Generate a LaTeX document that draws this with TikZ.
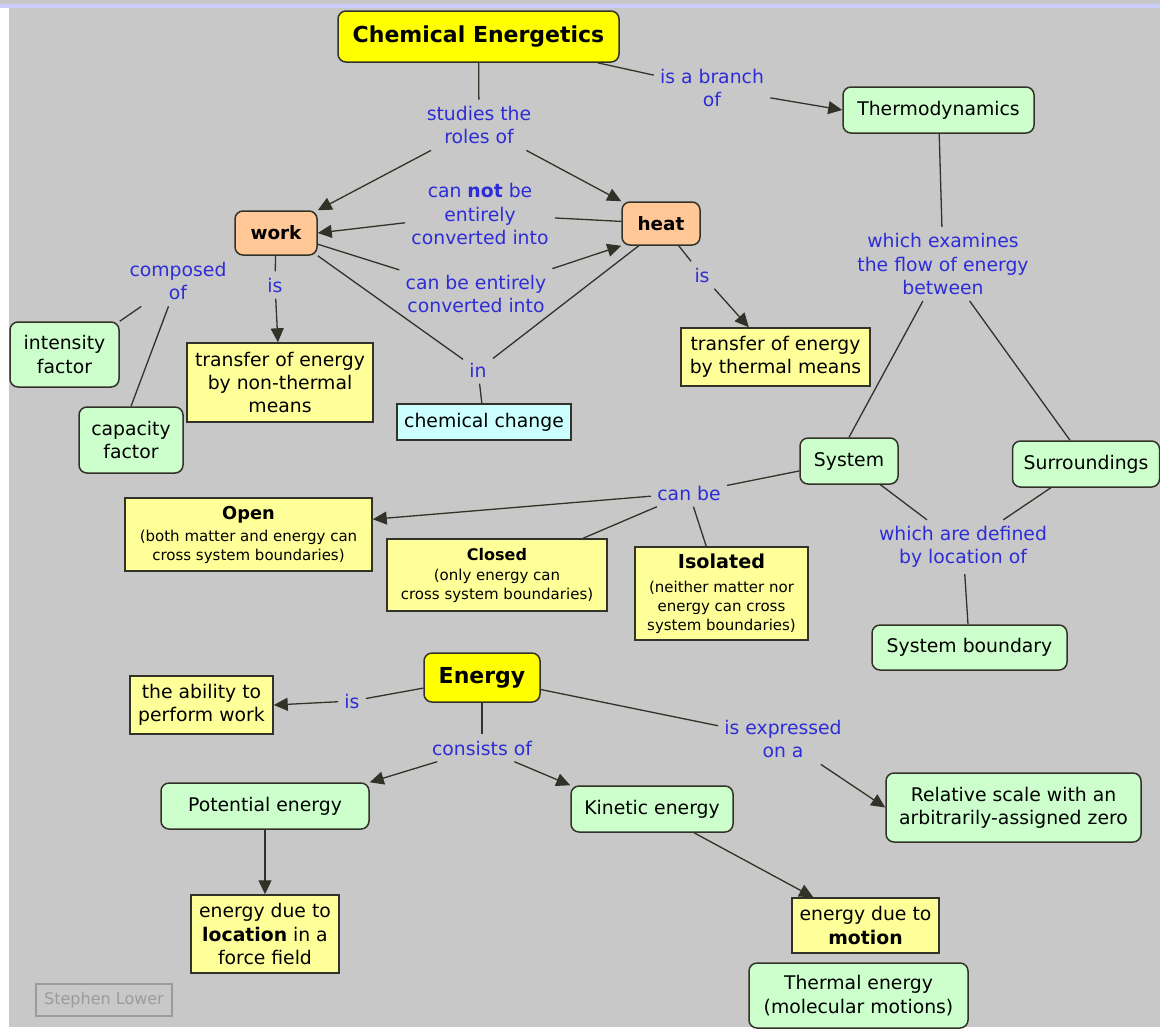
\documentclass[tikz,border=0pt]{standalone}
\usepackage{fontspec}
\setmainfont{DejaVu Sans}
\usetikzlibrary{arrows.meta}
\definecolor{bggray}{RGB}{200,200,200}
\definecolor{bandblue}{RGB}{204,204,255}
\definecolor{conyellow}{RGB}{255,255,0}
\definecolor{noteyellow}{RGB}{255,255,153}
\definecolor{congreen}{RGB}{204,255,204}
\definecolor{conorange}{RGB}{255,200,150}
\definecolor{concyan}{RGB}{204,255,255}
\definecolor{linkblue}{RGB}{45,45,215}
\definecolor{edgegray}{RGB}{50,50,40}
\definecolor{signgray}{RGB}{155,155,155}
\tikzset{
concept/.style={draw=edgegray,line width=0.75pt,align=center,inner sep=1pt,text=black,font=\fontsize{9.4}{11.7}\selectfont},
mainbox/.style={concept,rounded corners=4pt,fill=conyellow,font=\fontsize{11}{13}\selectfont\bfseries},
actbox/.style={concept,rounded corners=4pt,fill=conorange,font=\fontsize{9.2}{11}\selectfont\bfseries},
termbox/.style={concept,rounded corners=4pt,fill=congreen},
notebox/.style={concept,fill=noteyellow},
placebox/.style={concept,fill=concyan},
smallnote/.style={notebox,font=\fontsize{7.5}{9.5}\selectfont},
phrase/.style={align=center,inner sep=3pt,text=linkblue,font=\fontsize{9.4}{11.7}\selectfont},
wh/.style 2 args={minimum width=#1*0.5pt,minimum height=#2*0.5pt},
link/.style={edgegray,line width=0.65pt},
linkarrow/.style={link,-{Triangle[length=7pt,width=6.5pt]}}
}

\begin{document}
\begin{tikzpicture}[x=0.5pt,y=-0.5pt]
    % frame
    \fill[white] (0,0) rectangle (1160,1029);
    \fill[bggray] (9,8) rectangle (1160,1027);
    \fill[bggray] (0,0) rectangle (1160,4);
    \fill[bandblue] (0,4) rectangle (1160,8);
    \useasboundingbox (0,0) rectangle (1160,1029);
    %
    \node[mainbox,wh={281}{51}](ce) at (478.5,36.5) {Chemical Energetics};
    \node[termbox,wh={191}{46}](thermo) at (938.5,110) {Thermodynamics};
    \node[actbox,wh={82}{44}](work) at (276,233) {work};
    \node[actbox,wh={78}{43}](heat) at (661,223.5) {heat};
    \node[termbox,wh={109}{65}](intensity) at (64.5,354.5) {intensity\\factor};
    \node[termbox,wh={104}{66}](capacity) at (131,440) {capacity\\factor};
    \node[notebox,wh={186}{79}](nonthermal) at (280,382.5) {transfer of energy\\by non-thermal\\means};
    \node[placebox,wh={174}{36}](chemchange) at (484,422) {chemical change};
    \node[notebox,wh={189}{58}](thermal) at (775.5,357) {transfer of energy\\by thermal means};
    \node[termbox,wh={98}{46}](system) at (849,461) {System};
    \node[termbox,wh={147}{46}](surround) at (1086,464) {Surroundings};
    \node[termbox,wh={195}{45}](sysbound) at (969.5,647.5) {System boundary};
    \node[smallnote,wh={247}{73}](open) at (248.5,534.5)
      {{\fontsize{8.9}{10}\selectfont\bfseries Open}\\[1.5pt](both matter and energy can\\cross system boundaries)};
    \node[smallnote,wh={220}{72}](closed) at (497,575)
      {{\fontsize{8}{10}\selectfont\bfseries Closed}\\[0.5pt](only energy can\\cross system boundaries)};
    \node[smallnote,wh={173}{93}](isolated) at (721.5,593.5)
      {{\fontsize{9.6}{11}\selectfont\bfseries Isolated}\\[2.5pt](neither matter nor\\energy can cross\\system boundaries)};
    \node[mainbox,wh={116}{49}](energy) at (482,677.5) {Energy};
    \node[notebox,wh={143}{58}](ability) at (201.5,705) {the ability to\\perform work};
    \node[termbox,wh={208}{46}](potential) at (265,806) {Potential energy};
    \node[termbox,wh={162}{46}](kinetic) at (652,809) {Kinetic energy};
    \node[termbox,wh={255}{69}](relative) at (1013.5,807.5) {Relative scale with an\\arbitrarily-assigned zero};
    \node[notebox,wh={148}{78}](location) at (265,934) {energy due to\\\textbf{location} in a\\force field};
    \node[notebox,wh={147}{55}](motion) at (865.5,925.5) {energy due to\\\textbf{motion}};
    \node[termbox,wh={219}{65}](thermalen) at (858.5,995.5) {Thermal energy\\(molecular motions)};
    \node[draw=signgray,line width=0.75pt,text=signgray,font=\fontsize{8}{10}\selectfont,wh={136}{32}](signature) at (104,1000) {Stephen Lower};
    %
    \node[phrase](studies) at (479,125) {studies the\\roles of};
    \node[phrase](branch) at (712,88) {is a branch\\of};
    \node[phrase](cannot) at (480,214) {can \textbf{not} be\\entirely\\converted into};
    \node[phrase](canbe) at (476,294) {can be entirely\\converted into};
    \node[phrase](composed) at (178,281) {composed\\of};
    \node[phrase](workis) at (275,285) {is};
    \node[phrase](inchange) at (478,370) {in};
    \node[phrase](heatis) at (702,275) {is};
    \node[phrase](examines) at (943,264) {which examines\\the flow of energy\\between};
    \node[phrase](canbetype) at (689,493) {can be};
    \node[phrase](defined) at (963,547) {which are defined\\by location of};
    \node[phrase](energyis) at (352,701) {is};
    \node[phrase](consists) at (482,748) {consists of};
    \node[phrase](expressed) at (783,739) {is expressed\\on a};
    %
    \foreach \u / \v in {ce/studies,ce/branch,heat/cannot,work.-15/canbe,work.south east/inchange,
      heat.-135/inchange,inchange/chemchange,work/workis,composed/intensity.north east,
      composed/capacity.north,heat/heatis,thermo/examines,examines/system.north,
      system/defined,surround/defined,defined/sysbound,system/canbetype,canbetype/closed,
      canbetype/isolated,energy/energyis,energy/consists,energy/expressed}
    \draw[link] (\u) -- (\v);
    \draw[link] (examines) -- ([xshift=-8pt]surround.north);
    %
    \foreach \u / \v in {studies/work.north east,studies/heat.north west,branch/thermo.west,
      cannot/work.east,canbe/heat.south west,workis/nonthermal,heatis/thermal,
      canbetype/open.7,energyis/ability.east,consists/potential.north east,
      consists/kinetic.north west,expressed/relative.west,potential/location}
    \draw[linkarrow] (\u) -- (\v);
    \draw[linkarrow] ([xshift=21pt]kinetic.south) -- ([xshift=11pt]motion.north west);
  \end{tikzpicture}
\end{document}
